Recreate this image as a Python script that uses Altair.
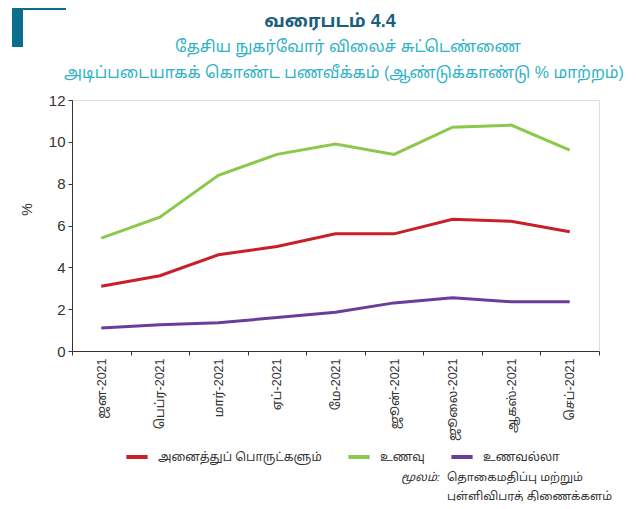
import altair as alt
import pandas as pd

months = ["ஜன-2021", "பெப்ர-2021", "மார்-2021", "ஏப்-2021", "மே-2021",
          "ஜூன்-2021", "ஜூலை-2021", "ஆகஸ்-2021", "செப்-2021"]
series_names = ["அனைத்துப் பொருட்களும்", "உணவு", "உணவல்லா"]
all_items = [3.1, 3.6, 4.6, 5.0, 5.6, 5.6, 6.3, 6.2, 5.7]
food = [5.4, 6.4, 8.4, 9.4, 9.9, 9.4, 10.7, 10.8, 9.6]
non_food = [1.1, 1.25, 1.35, 1.6, 1.85, 2.3, 2.55, 2.35, 2.35]
colors = ["#c8202a", "#8cc84b", "#6a3d9a"]

title_main = "வரைபடம் 4.4"
subtitle_1 = "தேசிய நுகர்வோர் விலைச் சுட்டெண்ணை"
subtitle_2 = "அடிப்படையாகக் கொண்ட பணவீக்கம் (ஆண்டுக்காண்டு % மாற்றம்)"
source_label = "மூலம்:"
source_1 = "தொகைமதிப்பு மற்றும்"
source_2 = "புள்ளிவிபரத் திணைக்களம்"

rows = []
for name, vals in zip(series_names, [all_items, food, non_food]):
    for m, v in zip(months, vals):
        rows.append({"month": m, "series": name, "value": v})
df = pd.DataFrame(rows)

FONT = "Liberation Sans, Noto Sans, Noto Sans Tamil, sans-serif"
TEAL = "#0b6e8e"

lines = alt.Chart(df).mark_line(strokeWidth=3).encode(
    x=alt.X("month:N", sort=months,
            scale=alt.Scale(paddingInner=0, paddingOuter=0),
            axis=alt.Axis(title=None, labelAngle=-90, tickBand="extent",
                          labelFontSize=12.5, labelColor="#333333",
                          labelFont=FONT, domainColor="#333333",
                          tickColor="#333333", tickSize=4, labelPadding=3,
                          grid=False)),
    y=alt.Y("value:Q", scale=alt.Scale(domain=[0, 12], nice=False),
            axis=alt.Axis(values=[0, 2, 4, 6, 8, 10, 12], title="%",
                          titleAngle=-90, titleX=-38, titleY=109,
                          titleFontSize=14, titleFontWeight="normal",
                          titleColor="#333333", titleFont=FONT,
                          labelFontSize=15, labelColor="#333333",
                          labelFont=FONT, domainColor="#333333",
                          tickColor="#333333", tickSize=4, labelPadding=3,
                          grid=False)),
    color=alt.Color("series:N",
                    scale=alt.Scale(domain=series_names, range=colors),
                    legend=alt.Legend(title=None, orient="none",
                                      direction="horizontal",
                                      legendX=52, legendY=344,
                                      symbolType="stroke", symbolStrokeWidth=4,
                                      symbolSize=450, columnPadding=18,
                                      labelFontSize=12, labelFont=FONT,
                                      labelLimit=400,
                                      labelColor="#333333", labelOffset=8)),
)

def txt(text, x, y, size, color, weight="normal", align="center", style="normal"):
    return alt.Chart(pd.DataFrame({"t": [text]})).mark_text(
        fontSize=size, color=color, fontWeight=weight, align=align,
        baseline="middle", font=FONT, fontStyle=style
    ).encode(text="t:N", x=alt.value(x), y=alt.value(y))

texts = [
    txt(title_main, 258, -78, 18, "#1b5f7c", weight="bold"),
    txt(subtitle_1, 276, -53, 16, "#2fb2c6"),
    txt(subtitle_2, 272, -27, 16, "#2fb2c6"),
    txt(source_label, 368, 378, 11.5, "#333333", align="right", style="italic"),
    txt(source_1, 375, 378, 11.5, "#333333", align="left"),
    txt(source_2, 375, 397, 11.5, "#333333", align="left"),
]

deco_df = pd.DataFrame({"d": [0]})
deco = [
    alt.Chart(deco_df).mark_rule(color=TEAL, strokeWidth=2.5).encode(
        x=alt.value(-60), x2=alt.value(570), y=alt.value(-97)),
    alt.Chart(deco_df).mark_rule(color=TEAL, strokeWidth=8).encode(
        x=alt.value(-60), x2=alt.value(-6), y=alt.value(-94)),
    alt.Chart(deco_df).mark_rule(color=TEAL, strokeWidth=11).encode(
        x=alt.value(-54.5), y=alt.value(-98), y2=alt.value(-53)),
]

chart = alt.layer(lines, *texts, *deco).properties(
    width=527, height=251,
    autosize=alt.AutoSizeParams(type="none"),
    padding={"left": 64, "top": 92, "right": 30, "bottom": 150},
).configure_view(stroke=None).configure(background="white")

chart.save("out.html", embed_options={"renderer": "svg", "actions": False})
